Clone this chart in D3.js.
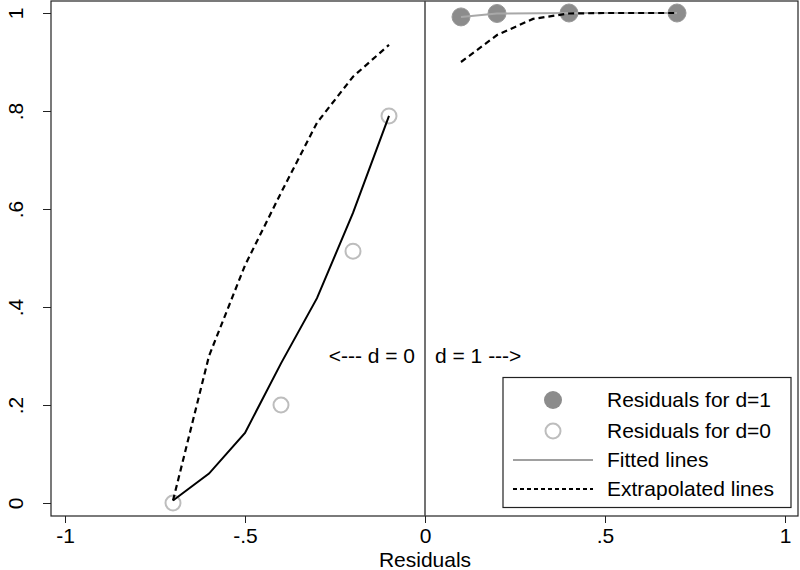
<!DOCTYPE html>
<html><head><meta charset="utf-8">
<script src="https://cdn.jsdelivr.net/npm/d3@7"></script>
<style>body{margin:0;background:#fff}svg{display:block;font-family:Arial,"Liberation Sans",sans-serif}</style>
</head><body><svg id="c" width="800" height="570"></svg>
<script>
// data
const xTicks = [-1, -0.5, 0, 0.5, 1];
const xTickLabels = ["-1", "-.5", "0", ".5", "1"];
const yTicks = [0, 0.2, 0.4, 0.6, 0.8, 1];
const yTickLabels = ["0", ".2", ".4", ".6", ".8", "1"];
const resid1X = [0.1, 0.2, 0.4, 0.7];
const resid1Y = [0.992, 0.999, 1.0, 1.0];
const resid0X = [-0.7, -0.4, -0.2, -0.1];
const resid0Y = [0.0, 0.2, 0.514, 0.79];
const fit1X = [0.1, 0.2, 0.4, 0.7];
const fit1Y = [0.992, 0.999, 1.0, 1.0];
const fit0X = [-0.7, -0.6, -0.5, -0.4, -0.3, -0.2, -0.1];
const fit0Y = [0.005, 0.06, 0.143, 0.285, 0.418, 0.592, 0.79];
const ext1X = [0.1, 0.2, 0.3, 0.4, 0.5, 0.6, 0.7];
const ext1Y = [0.90, 0.955, 0.988, 0.999, 1.0, 1.0, 1.0];
const ext0X = [-0.7, -0.6, -0.5, -0.4, -0.3, -0.2, -0.1];
const ext0Y = [0.005, 0.30, 0.485, 0.633, 0.776, 0.87, 0.935];
const legendLabels = ["Residuals for d=1", "Residuals for d=0", "Fitted lines", "Extrapolated lines"];

const FONT = "Arial, 'Liberation Sans', sans-serif";
const FS = 21;
const svg = d3.select("#c");
const frame = {l: 51, r: 798, t: 1, b: 516};
const x = d3.scaleLinear().domain([-1, 1]).range([65, 785]);
const y = d3.scaleLinear().domain([0, 1]).range([503, 13]);

// frame
svg.append("rect").attr("x", frame.l).attr("y", frame.t).attr("width", frame.r - frame.l).attr("height", frame.b - frame.t)
  .attr("fill", "none").attr("stroke", "#222").attr("stroke-width", 1.2);

// zero line
svg.append("line").attr("x1", x(0)).attr("x2", x(0)).attr("y1", frame.t).attr("y2", frame.b)
  .attr("stroke", "#444").attr("stroke-width", 1.5);

// x axis
const xAxis = d3.axisBottom(x).tickValues(xTicks).tickSize(7).tickPadding(5)
  .tickFormat((d, i) => xTickLabels[i]);
const gx = svg.append("g").attr("transform", `translate(0,${frame.b})`).call(xAxis);
gx.select(".domain").remove();
gx.selectAll("line").attr("stroke", "#222");
gx.selectAll("text").attr("font-size", FS).attr("fill", "#000").attr("font-family", FONT);

// y axis
const yAxis = d3.axisLeft(y).tickValues(yTicks).tickSize(8).tickPadding(0)
  .tickFormat((d, i) => yTickLabels[i]);
const gy = svg.append("g").attr("transform", `translate(${frame.l},0)`).call(yAxis);
gy.select(".domain").remove();
gy.selectAll("line").attr("stroke", "#222");
gy.selectAll("text").attr("font-size", FS).attr("fill", "#000")
  .attr("font-family", FONT)
  .attr("text-anchor", "middle").attr("dy", null).attr("x", null)
  .attr("transform", "translate(-34,0) rotate(-90)").attr("dominant-baseline", "middle");

// x title
svg.append("text").attr("x", x(0)).attr("y", 567).attr("text-anchor", "middle")
  .attr("font-size", FS).attr("font-family", FONT).text("Residuals");

const line = d3.line().x(d => x(d[0])).y(d => y(d[1]));
const z = (a, b) => a.map((v, i) => [v, b[i]]);

// points (drawn first, lines on top)
svg.selectAll("circle.r0").data(z(resid0X, resid0Y)).enter().append("circle")
  .attr("cx", d => x(d[0])).attr("cy", d => y(d[1])).attr("r", 7.5)
  .attr("fill", "none").attr("stroke", "#bdbdbd").attr("stroke-width", 2);
svg.selectAll("circle.r1").data(z(resid1X, resid1Y)).enter().append("circle")
  .attr("cx", d => x(d[0])).attr("cy", d => y(d[1])).attr("r", 9)
  .attr("fill", "#8c8c8c").attr("stroke", "#999").attr("stroke-width", 1);

// fitted lines
svg.append("path").datum(z(fit0X, fit0Y)).attr("d", line).attr("fill", "none")
  .attr("stroke", "#000").attr("stroke-width", 2);
svg.append("path").datum(z(fit1X, fit1Y)).attr("d", line).attr("fill", "none")
  .attr("stroke", "#a8a8a8").attr("stroke-width", 2);

// extrapolated lines
svg.append("path").datum(z(ext0X, ext0Y)).attr("d", line).attr("fill", "none")
  .attr("stroke", "#000").attr("stroke-width", 2.2).attr("stroke-dasharray", "6,4");
svg.append("path").datum(z(ext1X, ext1Y)).attr("d", line).attr("fill", "none")
  .attr("stroke", "#000").attr("stroke-width", 2.2).attr("stroke-dasharray", "6,4");

// annotations
svg.append("text").attr("x", 415).attr("y", 363).attr("text-anchor", "end").attr("font-size", FS).attr("font-family", FONT).text("<--- d = 0");
svg.append("text").attr("x", 435).attr("y", 363).attr("text-anchor", "start").attr("font-size", FS).attr("font-family", FONT).text("d = 1 --->");

// legend
const lg = svg.append("g");
lg.append("rect").attr("x", 503).attr("y", 377.5).attr("width", 288).attr("height", 130)
  .attr("fill", "#fff").attr("stroke", "#222").attr("stroke-width", 1.2);
const rowY = [400, 431, 460, 489];
lg.append("circle").attr("cx", 553).attr("cy", rowY[0]).attr("r", 9).attr("fill", "#8c8c8c");
lg.append("circle").attr("cx", 553).attr("cy", rowY[1]).attr("r", 7.5).attr("fill", "none").attr("stroke", "#bdbdbd").attr("stroke-width", 2);
lg.append("line").attr("x1", 513).attr("x2", 593).attr("y1", rowY[2]).attr("y2", rowY[2]).attr("stroke", "#a0a0a0").attr("stroke-width", 2);
lg.append("line").attr("x1", 513).attr("x2", 593).attr("y1", rowY[3]).attr("y2", rowY[3]).attr("stroke", "#000").attr("stroke-width", 2).attr("stroke-dasharray", "4,3");
lg.selectAll("text").data(legendLabels).enter().append("text")
  .attr("x", 607).attr("y", (d, i) => rowY[i]).attr("dy", "0.35em").attr("font-size", FS).attr("font-family", FONT).text(d => d);
</script></body></html>
